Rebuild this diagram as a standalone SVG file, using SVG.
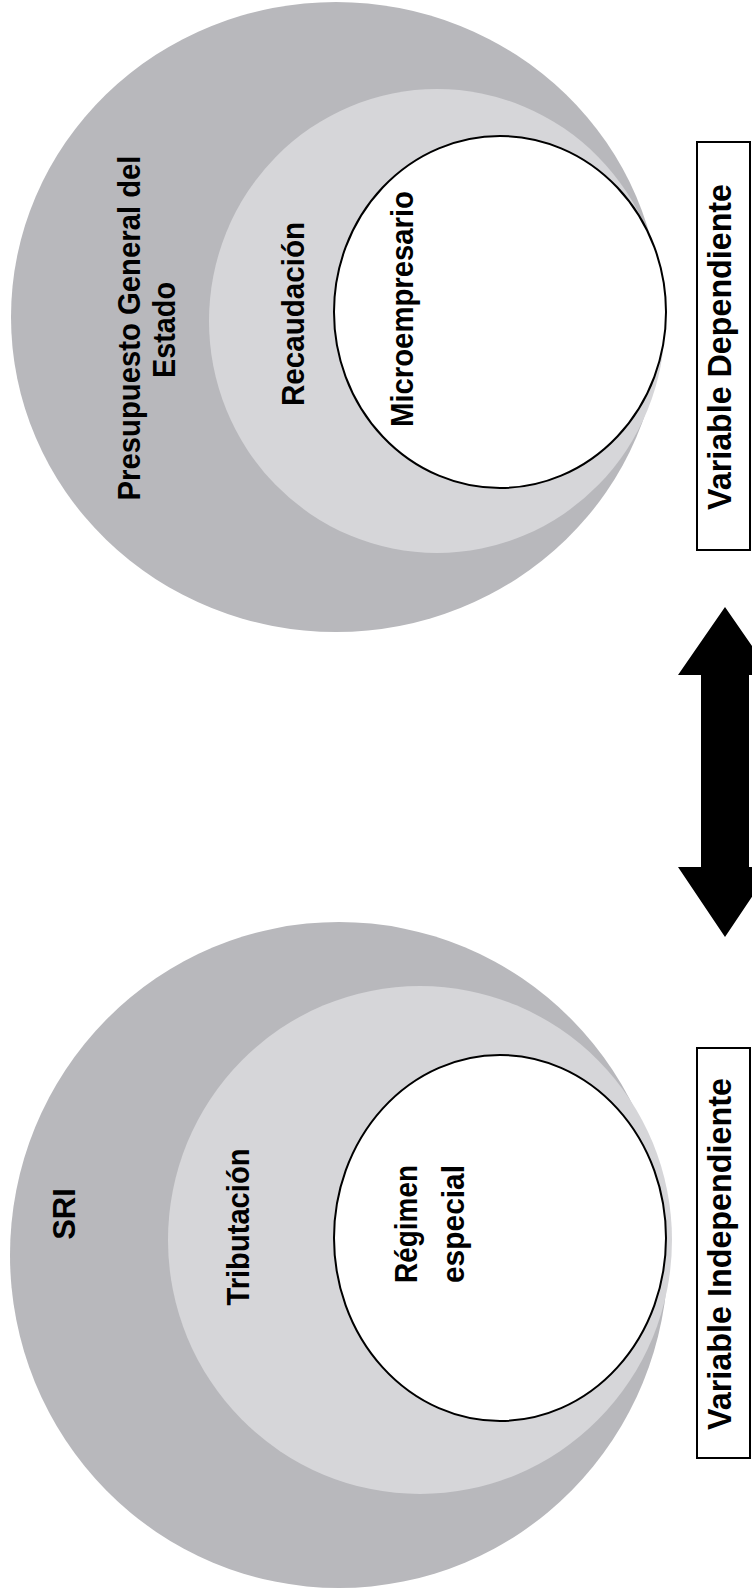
<svg xmlns="http://www.w3.org/2000/svg" width="752" height="1594" viewBox="0 0 752 1594">
<style>
.outer{fill:#b8b8bc}
.middle{fill:#d6d6d9}
.inner{fill:#ffffff;stroke:#000;stroke-width:2}
.lbl{font-family:"Liberation Sans",Arial,sans-serif;font-weight:bold;font-size:31px;fill:#000;text-anchor:middle}
.vlbl{font-family:"Liberation Sans",Arial,sans-serif;font-weight:bold;font-size:33px;fill:#000;text-anchor:middle}
.box{fill:#fff;stroke:#000;stroke-width:2}
</style>
<rect width="752" height="1594" fill="#fff"/>
<g id="dependiente">
  <ellipse class="outer" cx="336" cy="317" rx="325" ry="315"/>
  <ellipse class="middle" cx="437" cy="321" rx="228" ry="232"/>
  <ellipse class="inner" cx="500" cy="312" rx="166" ry="176"/>
  <text class="lbl" transform="translate(140,328) rotate(-90)" textLength="345" lengthAdjust="spacingAndGlyphs">Presupuesto General del</text>
  <text class="lbl" transform="translate(175,330) rotate(-90)" textLength="96" lengthAdjust="spacingAndGlyphs">Estado</text>
  <text class="lbl" transform="translate(304,314) rotate(-90)" textLength="184" lengthAdjust="spacingAndGlyphs">Recaudación</text>
  <text class="lbl" transform="translate(413,309) rotate(-90)" textLength="236" lengthAdjust="spacingAndGlyphs">Microempresario</text>
</g>
<g id="independiente">
  <ellipse class="outer" cx="339" cy="1255" rx="329" ry="333"/>
  <ellipse class="middle" cx="420" cy="1240" rx="252" ry="254"/>
  <ellipse class="inner" cx="500" cy="1238" rx="166" ry="183"/>
  <text class="lbl" transform="translate(75,1214) rotate(-90)">SRI</text>
  <text class="lbl" transform="translate(249,1227) rotate(-90)" textLength="157" lengthAdjust="spacingAndGlyphs">Tributación</text>
  <text class="lbl" transform="translate(417,1224) rotate(-90)" textLength="118" lengthAdjust="spacingAndGlyphs">Régimen</text>
  <text class="lbl" transform="translate(464,1224) rotate(-90)" textLength="118" lengthAdjust="spacingAndGlyphs">especial</text>
</g>
<g id="box-dependiente">
  <rect class="box" x="697" y="142" width="53" height="408"/>
  <text class="vlbl" transform="translate(731,347) rotate(-90)" textLength="326" lengthAdjust="spacingAndGlyphs">Variable Dependiente</text>
</g>
<g id="box-independiente">
  <rect class="box" x="697" y="1048" width="53" height="410"/>
  <text class="vlbl" transform="translate(731,1254) rotate(-90)" textLength="352" lengthAdjust="spacingAndGlyphs">Variable Independiente</text>
</g>
<g id="connectors">
  <polygon fill="#000" points="725,607 772,675 749,675 749,867 772,867 725,937 678,867 701,867 701,675 678,675"/>
</g>
</svg>
